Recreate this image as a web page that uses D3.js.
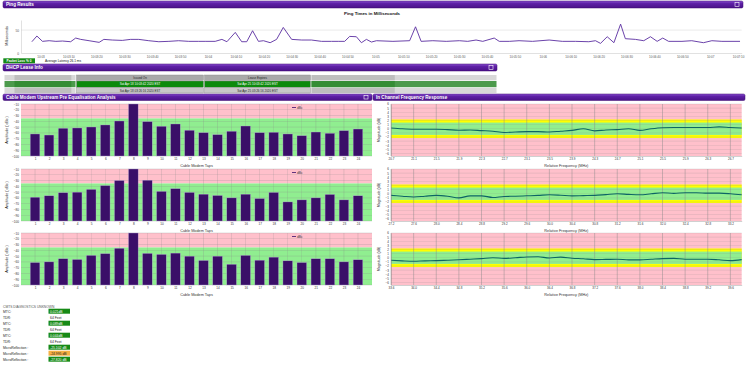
<!DOCTYPE html>
<html><head><meta charset="utf-8">
<script src="https://cdn.jsdelivr.net/npm/d3@7"></script>
<style>
html,body{margin:0;padding:0;background:#fff;}
svg{display:block;font-family:"Liberation Sans",Arial,sans-serif;}
</style></head><body>
<svg id="c" width="750" height="366"></svg>
<script>
// ---------------- DATA ----------------
const pingTitle = "Ping Times in Milliseconds";
const pingStart = "2020-04-18T10:03:00";
const pingTimes = [-3.1,-1.3,0.7,3.1,5.5,7.9,10.8,12.6,14.4,17.4,21.0,22.7,25.7,29.3,32.3,35.2,38.8,42.4,46.0,49.5,53.1,56.7,59.0,62.6,65.0,66.8,69.8,72.1,73.9,76.0,78.1,79.9,82.3,84.6,87.0,90.0,93.6,97.1,100.7,104.3,106.7,109.0,110.8,113.2,115.0,116.8,118.6,120.4,126.3,132.3,134.4,136.4,140.6,145.4,150.1,153.1,156.1,158.5,162.6,164.4,168.0,171.5,176.3,182.3,187.0,191.8,196.5,198.9,200.7,203.1,205.5,207.9,209.6,213.2,216.2,218.6,221.0,223.0,225.1,229.9,233.4,237.6,240.6,244.2,250.7];
const pingValues = [24.6,37.0,25.4,26.8,25.4,26.1,24.6,32.6,29.7,26.8,23.2,29.7,28.3,27.5,29.7,29.7,26.8,24.6,25.4,26.8,25.4,25.4,25.4,25.4,29.7,24.6,45.0,24.6,24.6,48.6,25.4,26.8,22.5,29.7,55.8,29.7,28.3,28.3,25.4,25.4,25.4,25.4,36.2,35.5,22.5,29.7,23.9,26.8,25.4,26.8,57.2,25.4,26.8,25.4,26.8,25.4,28.3,25.4,32.6,25.4,25.4,26.8,25.4,28.3,25.4,25.4,24.6,26.8,21.0,35.5,22.5,63.0,31.2,29.7,26.8,35.5,25.4,32.6,25.4,25.4,26.8,22.5,26.8,25.4,25.4];
const pingYTicks = [0, 50];
const packetLoss = "Packet Loss % 0";
const avgLatency = "Average Latency 26.1 ms";

const dhcpHeaders = ["", "Issued On", "Lease Expires", ""];
const dhcpRow1 = ["", "Sat Apr 18 10:03:42 2020 EST", "Sat Apr 25 10:03:42 2020 EST", ""];
const dhcpRow2 = ["", "Sat Apr 18 03:26:16 2020 EST", "Sat Apr 25 03:26:16 2020 EST", ""];

const taps = [1,2,3,4,5,6,7,8,9,10,11,12,13,14,15,16,17,18,19,20,21,22,23,24];
const preEq1 = [-61.9,-63.7,-52.0,-51.5,-49.8,-46.3,-39.4,-10,-40.6,-48.6,-44.6,-55.5,-59.7,-63.1,-57.2,-48.1,-59.7,-59.0,-61.9,-64.9,-58.5,-60.7,-56.2,-53.3];
const preEq2 = [-58.9,-56.4,-51.1,-50.1,-45.3,-38.8,-30.0,-10,-29.4,-48.8,-44.1,-50.6,-53.6,-55.9,-60.0,-53.6,-61.2,-50.6,-67.0,-63.5,-60.0,-54.1,-63.5,-56.4];
const preEq3 = [-61.2,-60.0,-54.6,-55.9,-48.8,-45.8,-36.5,-10,-45.3,-47.1,-44.8,-50.1,-57.6,-50.1,-64.2,-48.8,-57.1,-51.8,-58.2,-61.2,-54.6,-54.6,-60.0,-56.4];
const ampTicks = [-10,-20,-30,-40,-50,-60,-70,-80,-90,-100];
const ampLimit = -35;

const freq1 = [20.7,20.9,21.1,21.3,21.5,21.7,21.9,22.1,22.3,22.5,22.7,22.9,23.1,23.3,23.5,23.7,23.9,24.1,24.3,24.5,24.7,24.9,25.1,25.3,25.5,25.7,25.9,26.1,26.3,26.5,26.7,26.9];
const mag1 = [0.2,0.0,-0.1,-0.1,-0.1,-0.2,-0.35,-0.3,-0.45,-0.6,-0.9,-0.8,-0.7,-0.7,-0.8,-0.6,-0.4,0.0,-0.5,-0.3,-0.2,0.0,-0.4,0.0,0.25,0.3,0.3,0.3,0.3,0.45,0.3,0.2];
const freqTicks1 = [20.7,21.1,21.5,21.9,22.3,22.7,23.1,23.5,23.9,24.3,24.7,25.1,25.5,25.9,26.3,26.7];
const freq2 = [27.2,27.4,27.6,27.8,28.0,28.2,28.4,28.6,28.8,29.0,29.2,29.4,29.6,29.8,30.0,30.2,30.4,30.6,30.8,31.0,31.2,31.4,31.6,31.8,32.0,32.2,32.4,32.6,32.8,33.0,33.2,33.4];
const mag2 = [-0.4,-0.6,-0.8,-0.6,-0.4,-0.6,-1.0,-0.5,-0.5,-0.9,-0.65,-0.6,-0.5,-0.4,-0.25,-0.35,-0.5,-0.45,-0.4,-0.2,0.0,-0.15,-0.25,0.0,0.25,0.1,0.25,0.25,0.15,0.15,0.0,-0.25];
const freqTicks2 = [27.2,27.6,28.0,28.4,28.8,29.2,29.6,30.0,30.4,30.8,31.2,31.6,32.0,32.4,32.8,33.2];
const freq3 = [33.6,33.8,34.0,34.2,34.4,34.6,34.8,35.0,35.2,35.4,35.6,35.8,36.0,36.2,36.4,36.6,36.8,37.0,37.2,37.4,37.6,37.8,38.0,38.2,38.4,38.6,38.8,39.0,39.2,39.4,39.6,39.8];
const mag3 = [-0.6,-0.75,-0.85,-0.75,-0.7,-0.6,-0.5,-0.35,-0.2,0.0,-0.15,0.0,0.2,0.25,-0.05,0.15,-0.1,-0.25,-0.45,-0.4,-0.35,-0.5,-0.5,-0.35,-0.2,-0.15,-0.35,-0.35,-0.35,-0.5,-0.7,-0.45];
const freqTicks3 = [33.6,34.0,34.4,34.8,35.2,35.6,36.0,36.4,36.8,37.2,37.6,38.0,38.4,38.8,39.2,39.6];
const magTicks = [6,5,4,3,2,1,0,-1,-2,-3,-4,-5,-6];
const magGreen = 1.5, magYellow = 2.25;

const diagTitle = "CMTS DIAGNOSTICS UNKNOWN";
const diagLabels = ["MTC:","TDR:","MTC:","TDR:","MTC:","TDR:","MicroReflection :","MicroReflection :","MicroReflection :"];
const diagValues = ["0.021dB","64 Feet","0.089dB","64 Feet","0.044dB","64 Feet","-25.102 dB","-24.995 dB","-27.820 dB"];
const diagStatus = ["good","","good","","good","","good","warn","good"];

// ---------------- DRAW ----------------
const svg = d3.select("#c");
const defs = svg.append("defs");
const hg = defs.append("linearGradient").attr("id","hdr").attr("x1",0).attr("y1",0).attr("x2",0).attr("y2",1);
hg.append("stop").attr("offset","0%").attr("stop-color","#8a4fd0");
hg.append("stop").attr("offset","35%").attr("stop-color","#5e20a6");
hg.append("stop").attr("offset","100%").attr("stop-color","#4a1188");
defs.append("filter").attr("id","blur").append("feGaussianBlur").attr("stdDeviation",2);

function header(x, y, w, h, label, icon){
  const g = svg.append("g");
  g.append("rect").attr("x",x).attr("y",y).attr("width",w).attr("height",h).attr("rx",1.5)
    .attr("fill","url(#hdr)").attr("stroke","#3c0b73").attr("stroke-width",0.5);
  g.append("text").attr("x",x+3).attr("y",y+h/2+1.8).attr("fill","#fff")
    .attr("font-size",4.6).attr("font-weight","bold").text(label);
  if(icon){
    g.append("rect").attr("x",x+w-8).attr("y",y+1.5).attr("width",4).attr("height",h-3)
      .attr("fill","none").attr("stroke","#fff").attr("stroke-width",0.6);
  }
}

// Ping section
header(3,1,740,7,"Ping Results",true);
svg.append("text").attr("x",372).attr("y",15).attr("text-anchor","middle")
  .attr("font-size",4.4).attr("font-weight","bold").attr("fill","#111").text(pingTitle);

const t0 = new Date(pingStart);
const pm = {l:21, r:741.7, t:20, b:53};
const px = d3.scaleTime()
  .domain([d3.timeSecond.offset(t0,-6.07), d3.timeMillisecond.offset(t0,251300)])
  .range([pm.l, pm.r]);
const py = d3.scaleLinear().domain([0,72]).range([pm.b, pm.t]);
const pingG = svg.append("g");
pingG.selectAll("line.gy").data(pingYTicks.filter(d=>d>0)).join("line")
  .attr("x1",pm.l).attr("x2",pm.r).attr("y1",d=>py(d)).attr("y2",d=>py(d))
  .attr("stroke","#ddd").attr("stroke-width",0.6);
const fmtTick = d => d.getSeconds()===0 ? d3.timeFormat("%H:%M")(d) : d3.timeFormat("%H:%M:%S")(d);
const pxAxis = d3.axisBottom(px).ticks(d3.timeSecond.every(10)).tickFormat(fmtTick).tickSize(0).tickPadding(2.5);
const gx = pingG.append("g").attr("transform",`translate(0,${pm.b})`).call(pxAxis);
gx.select(".domain").attr("stroke","#ccc").attr("stroke-width",0.6);
gx.selectAll("text").attr("font-size",3).attr("fill","#555");
const pyAxis = d3.axisLeft(py).tickValues(pingYTicks).tickSize(0).tickPadding(2);
const gy = pingG.append("g").attr("transform",`translate(${pm.l},0)`).call(pyAxis);
gy.select(".domain").attr("stroke","#ccc").attr("stroke-width",0.6);
gy.selectAll("text").attr("font-size",3.2).attr("fill","#555");
pingG.append("text").attr("transform","translate(8,36) rotate(-90)").attr("text-anchor","middle")
  .attr("font-size",3.6).attr("fill","#222").text("Milliseconds");
pingG.append("path").datum(pingTimes.map((t,i)=>[t,pingValues[i]]))
  .attr("fill","none").attr("stroke","#5a2ea0").attr("stroke-width",0.9)
  .attr("d", d3.line().x(d=>px(d3.timeMillisecond.offset(t0, Math.round(d[0]*1000)))).y(d=>py(d[1])));

svg.append("rect").attr("x",3.3).attr("y",58.3).attr("width",31.7).attr("height",5).attr("fill","#168a16");
svg.append("text").attr("x",19).attr("y",62).attr("text-anchor","middle").attr("font-size",3.2)
  .attr("fill","#fff").attr("font-weight","bold").text(packetLoss);
svg.append("text").attr("x",45).attr("y",62).attr("font-size",3.2).attr("fill","#111").text(avgLatency);

// DHCP
header(3,64,494,7,"DHCP Lease Info",true);
const colX = [4,76,204,311,497];
const rowY = [74.7,80.7,87.5,93.3];
const rows = [dhcpHeaders, dhcpRow1, dhcpRow2];
const rowFill = ["#a9a9a9","#0c8a0c","#c8c8c8"];
rows.forEach((row,ri)=>{
  row.forEach((txt,ci)=>{
    const x0 = colX[ci]+0.5, x1 = colX[ci+1]-0.5, y0 = rowY[ri]+0.3, y1 = rowY[ri+1]-0.3;
    if(ci===0 || ci===3){
      // anonymised (blurred) cells
      const g = svg.append("g");
      g.append("rect").attr("x",x0).attr("y",y0).attr("width",x1-x0).attr("height",y1-y0)
        .attr("fill", ri===1 ? "#4c9a4c" : "#d8d8d8");
      g.append("rect").attr("x",x0+ (ci===0?10:0)).attr("y",y0).attr("width",(x1-x0)*(ci===0?0.8:0.45)).attr("height",y1-y0)
        .attr("fill", ri===1 ? "#2f8a2f" : "#b8b8b8").attr("opacity",0.8);
      return;
    }
    svg.append("rect").attr("x",x0).attr("y",y0).attr("width",x1-x0).attr("height",y1-y0)
      .attr("fill",rowFill[ri]).attr("stroke","#888").attr("stroke-width",0.4);
    svg.append("text").attr("x",(x0+x1)/2).attr("y",(y0+y1)/2+1.1).attr("text-anchor","middle")
      .attr("font-size",3).attr("fill", ri===1 ? "#fff" : "#222").text(txt);
  });
});

// Pre-EQ & freq headers
header(3,94,369,6.5,"Cable Modem Upstream Pre Equalisation Analysis",true);
header(373,94,372,6.5,"In Channel Frequency Response",false);

const plotTops = [104, 169, 233];
const plotH = 52;

function barChart(top, values, showLegend){
  const L = 21, R = 372;
  const x = d3.scaleLinear().domain([0,25]).range([L,R]);
  const y = d3.scaleLinear().domain([-100,-10]).range([top+plotH, top]);
  const g = svg.append("g");
  g.append("rect").attr("x",L).attr("y",top).attr("width",R-L).attr("height",y(ampLimit)-top).attr("fill","#ffc0cb");
  g.append("rect").attr("x",L).attr("y",y(ampLimit)).attr("width",R-L).attr("height",top+plotH-y(ampLimit)).attr("fill","#90ee90");
  g.selectAll("line.h").data(ampTicks).join("line")
    .attr("x1",L).attr("x2",R).attr("y1",d=>y(d)).attr("y2",d=>y(d)).attr("stroke","#8a8a8a").attr("stroke-width",0.35).attr("opacity",0.7);
  g.selectAll("line.v").data(taps).join("line")
    .attr("x1",d=>x(d)).attr("x2",d=>x(d)).attr("y1",top).attr("y2",top+plotH).attr("stroke","#8a8a8a").attr("stroke-width",0.35).attr("opacity",0.7);
  const bw = 9.6;
  g.selectAll("rect.bar").data(values).join("rect")
    .attr("x",(d,i)=>x(taps[i])-bw/2).attr("width",bw)
    .attr("y",d=>y(d)).attr("height",d=>top+plotH-y(d))
    .attr("fill","#3a0f68").attr("stroke","#b7a6d6").attr("stroke-width",0.35);
  const ax = d3.axisBottom(x).tickValues(taps).tickSize(0).tickPadding(1.8).tickFormat(d3.format("d"));
  const gx = g.append("g").attr("transform",`translate(0,${top+plotH})`).call(ax);
  gx.select(".domain").remove();
  gx.selectAll("text").attr("font-size",3.1).attr("fill","#333");
  const ay = d3.axisLeft(y).tickValues(ampTicks).tickSize(0).tickPadding(2);
  const gy = g.append("g").attr("transform",`translate(${L},0)`).call(ay);
  gy.select(".domain").remove();
  gy.selectAll("text").attr("font-size",3.1).attr("fill","#333");
  g.append("text").attr("transform",`translate(8,${top+plotH/2}) rotate(-90)`).attr("text-anchor","middle")
    .attr("font-size",3.6).attr("fill","#222").text("Amplitude ( dBc )");
  g.append("text").attr("x",(L+R)/2).attr("y",top+plotH+10.5).attr("text-anchor","middle")
    .attr("font-size",3.8).attr("fill","#333").text("Cable Modem Taps");
  g.append("line").attr("x1",292).attr("x2",296).attr("y1",top+3.5).attr("y2",top+3.5).attr("stroke","#3a0f68").attr("stroke-width",0.8);
  g.append("text").attr("x",297).attr("y",top+4.6).attr("font-size",3.2).attr("fill","#333").text("dBc");
}
barChart(plotTops[0], preEq1);
barChart(plotTops[1], preEq2);
barChart(plotTops[2], preEq3);

function freqChart(top, fr, mags, ticks){
  const L = 391, R = 741.7;
  const x = d3.scaleLinear().domain([fr[0], fr[fr.length-1]]).range([L,R]);
  const y = d3.scaleLinear().domain([-6.6,6]).range([top+plotH, top]);
  const g = svg.append("g");
  g.append("rect").attr("x",L).attr("y",top).attr("width",R-L).attr("height",plotH).attr("fill","#ffc0cb");
  g.append("rect").attr("x",L).attr("y",y(magYellow)).attr("width",R-L).attr("height",y(-magYellow)-y(magYellow)).attr("fill","#ffff00");
  g.append("rect").attr("x",L).attr("y",y(magGreen)).attr("width",R-L).attr("height",y(-magGreen)-y(magGreen)).attr("fill","#90ee90");
  g.selectAll("line.h").data(magTicks).join("line")
    .attr("x1",L).attr("x2",R).attr("y1",d=>y(d)).attr("y2",d=>y(d)).attr("stroke","#8a8a8a").attr("stroke-width",0.3).attr("opacity",0.6);
  g.selectAll("line.v").data(ticks).join("line")
    .attr("x1",d=>x(d)).attr("x2",d=>x(d)).attr("y1",top).attr("y2",top+plotH).attr("stroke","#888").attr("stroke-width",0.45);
  g.append("path").datum(fr.map((f,i)=>[f,mags[i]]))
    .attr("fill","none").attr("stroke","#0d6565").attr("stroke-width",1.1)
    .attr("d", d3.line().curve(d3.curveMonotoneX).x(d=>x(d[0])).y(d=>y(d[1])));
  const ax = d3.axisBottom(x).tickValues(ticks).tickSize(0).tickPadding(1.8).tickFormat(d3.format(".1f"));
  const gx = g.append("g").attr("transform",`translate(0,${top+plotH})`).call(ax);
  gx.select(".domain").attr("stroke","#888").attr("stroke-width",0.4);
  gx.selectAll("text").attr("font-size",3).attr("fill","#333");
  const ay = d3.axisLeft(y).tickValues(magTicks).tickSize(0).tickPadding(2);
  const gy = g.append("g").attr("transform",`translate(${L},0)`).call(ay);
  gy.select(".domain").attr("stroke","#888").attr("stroke-width",0.4);
  gy.selectAll("text").attr("font-size",3).attr("fill","#333");
  g.append("text").attr("transform",`translate(380,${top+plotH/2}) rotate(-90)`).attr("text-anchor","middle")
    .attr("font-size",3.6).attr("fill","#222").text("Magnitude (dB)");
  g.append("text").attr("x",(L+R)/2).attr("y",top+plotH+10.5).attr("text-anchor","middle")
    .attr("font-size",3.8).attr("fill","#333").text("Relative Frequency (MHz)");
}
freqChart(plotTops[0], freq1, mag1, freqTicks1);
freqChart(plotTops[1], freq2, mag2, freqTicks2);
freqChart(plotTops[2], freq3, mag3, freqTicks3);

// Diagnostics block
svg.append("text").attr("x",3).attr("y",308).attr("font-size",3.3).attr("fill","#555").text(diagTitle);
diagLabels.forEach((lab,i)=>{
  const yy = 312.5 + i*6;
  svg.append("text").attr("x",3).attr("y",yy).attr("font-size",3.4).attr("fill","#222").text(lab);
  const st = diagStatus[i];
  if(st){
    svg.append("rect").attr("x",48.5).attr("y",yy-3.8).attr("width",21.5).attr("height",5)
      .attr("fill", st==="warn" ? "#f5b043" : "#168a16");
    svg.append("text").attr("x",50).attr("y",yy).attr("font-size",3.4)
      .attr("fill", st==="warn" ? "#222" : "#fff").text(diagValues[i]);
  } else {
    svg.append("text").attr("x",50).attr("y",yy).attr("font-size",3.4).attr("fill","#222").text(diagValues[i]);
  }
});
</script>
</body></html>
